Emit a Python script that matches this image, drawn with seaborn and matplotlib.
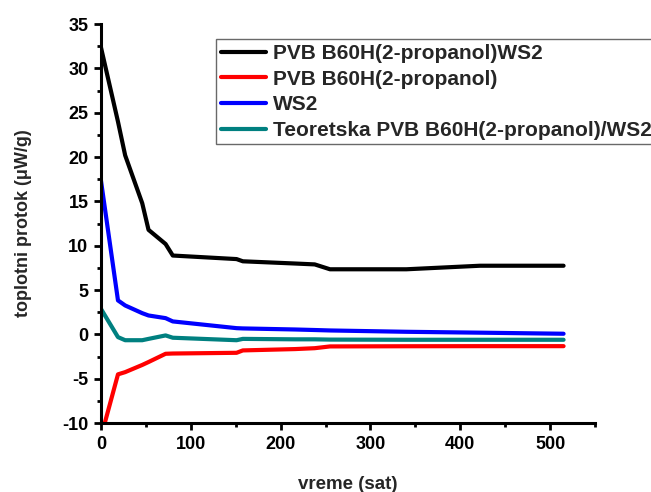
import matplotlib
matplotlib.use("Agg")
import matplotlib.pyplot as plt
from matplotlib.ticker import MultipleLocator
import pandas as pd
import seaborn as sns

# Time points (hours)
vreme = [0, 19, 27, 46, 53, 72, 80, 151, 158, 216, 238, 255, 340, 422, 515]

# Heat flow series (uW/g)
pvb_ws2 = [32.4, 24.0, 20.2, 14.8, 11.8, 10.2, 8.9, 8.5, 8.25, 8.0, 7.9, 7.35, 7.35, 7.75, 7.75]
pvb = [-11.6, -4.5, -4.25, -3.44, -3.11, -2.18, -2.15, -2.07, -1.8, -1.65, -1.55, -1.35, -1.33, -1.32, -1.32]
ws2 = [17.4, 3.84, 3.27, 2.4, 2.14, 1.84, 1.47, 0.71, 0.68, 0.56, 0.5, 0.45, 0.3, 0.2, 0.08]
teoretska = [2.9, -0.3, -0.65, -0.65, -0.5, -0.11, -0.37, -0.65, -0.5, -0.55, -0.55, -0.58, -0.6, -0.6, -0.6]

labels = ["PVB B60H(2-propanol)WS2", "PVB B60H(2-propanol)", "WS2",
          "Teoretska PVB B60H(2-propanol)/WS2"]
colors = ["#000000", "#ff0000", "#0000ff", "#008080"]

frames = []
for lab, vals in zip(labels, [pvb_ws2, pvb, ws2, teoretska]):
    frames.append(pd.DataFrame({"vreme": vreme, "protok": vals, "serija": lab}))
df = pd.concat(frames, ignore_index=True)

sns.set_style("ticks")
plt.rcParams["font.family"] = ["Liberation Sans", "DejaVu Sans"]
plt.rcParams["font.weight"] = "bold"
plt.rcParams["axes.unicode_minus"] = False

fig = plt.figure(figsize=(6.51, 4.92), dpi=100)
ax = fig.add_axes([0.155, 0.140, 0.759, 0.811])

sns.lineplot(data=df, x="vreme", y="protok", hue="serija", hue_order=labels,
             palette=colors, linewidth=3.0, ax=ax, sort=False, estimator=None)

ax.set_xlim(0, 550)
ax.set_ylim(-10, 35)
ax.xaxis.set_major_locator(MultipleLocator(100))
ax.xaxis.set_minor_locator(MultipleLocator(50))
ax.yaxis.set_major_locator(MultipleLocator(5))
ax.yaxis.set_minor_locator(MultipleLocator(2.5))

for side in ["top", "right"]:
    ax.spines[side].set_visible(False)
for side in ["left", "bottom"]:
    ax.spines[side].set_linewidth(2.2)
    ax.spines[side].set_color("black")

ax.tick_params(which="major", direction="out", length=5, width=2, labelsize=13,
               colors="black", pad=4)
ax.tick_params(which="minor", direction="out", length=3, width=2, colors="black")
for t in ax.get_xticklabels() + ax.get_yticklabels():
    t.set_fontweight("bold")

ax.set_xlabel("vreme (sat)", fontsize=13.5, fontweight="bold", labelpad=17)
ax.set_ylabel("toplotni protok (\u03bcW/g)", fontsize=13, fontweight="bold", labelpad=22)

leg = ax.legend(loc="upper left", bbox_to_anchor=(0.233, 0.962), fontsize=15,
                frameon=True, fancybox=False, handlelength=2.2, handletextpad=0.33,
                labelspacing=0.32, borderpad=0.22, borderaxespad=0.0)
leg.get_frame().set_edgecolor("#444444")
leg.get_frame().set_linewidth(1.0)
for line in leg.get_lines():
    line.set_linewidth(3.0)
for t in leg.get_texts():
    t.set_fontweight("bold")

fig.savefig("out.png", dpi=100)
